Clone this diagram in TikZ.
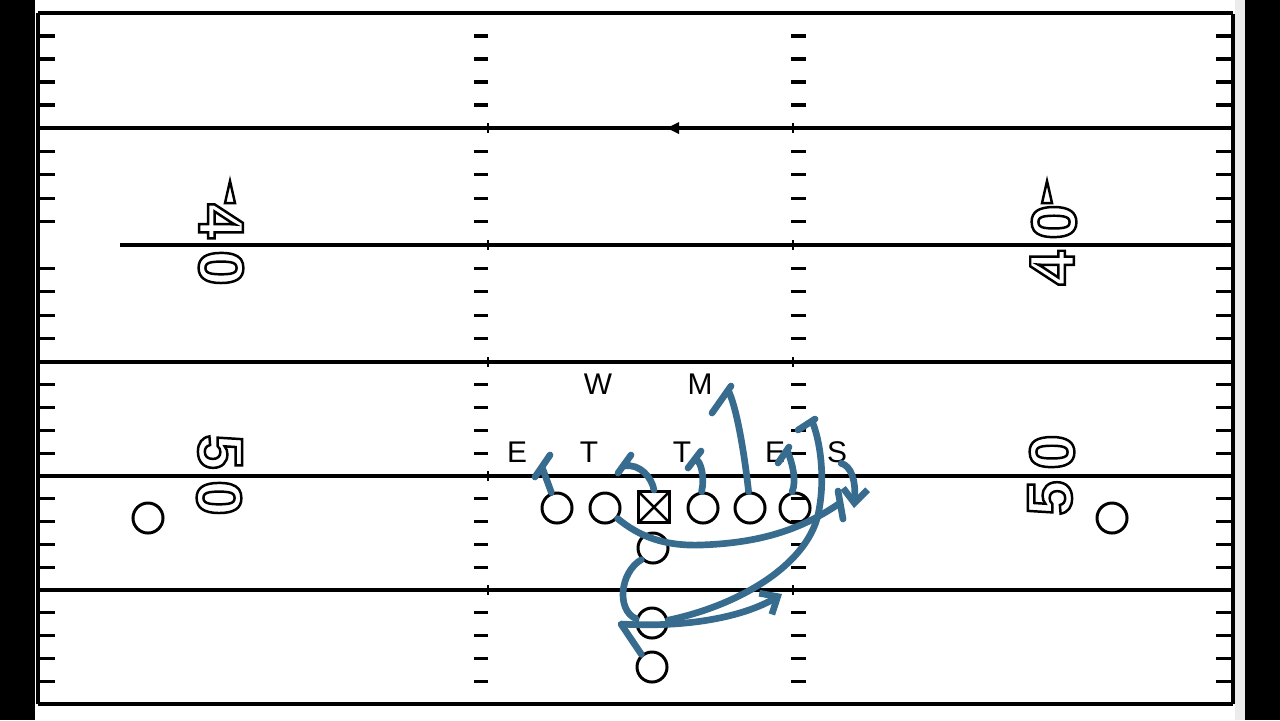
\documentclass[tikz,border=0pt]{standalone}
\usepackage{fontspec}
\setsansfont{Liberation Sans}
\usetikzlibrary{arrows.meta}
\definecolor{routeblue}{RGB}{56,108,142}
\newcommand{\numout}[1]{\special{pdf:literal direct 1 Tr 0.7 w}#1\special{pdf:literal direct 0 Tr}}
\tikzset{
  yardline/.style={line width=0.9pt},
  tick/.style={line width=0.9pt},
  plyr/.style={circle,draw,line width=0.85pt,minimum size=0.30cm,inner sep=0pt},
  ctr/.style={rectangle,draw,line width=0.85pt,minimum size=0.31cm,inner sep=0pt,
    path picture={\draw[line width=0.7pt] (path picture bounding box.north west) -- (path picture bounding box.south east)
      (path picture bounding box.north east) -- (path picture bounding box.south west);}},
  deflbl/.style={font=\sffamily\fontsize{8.5}{10}\selectfont,inner sep=0pt},
  yardnum/.style={font=\sffamily\bfseries\fontsize{18}{20}\selectfont,inner sep=0pt},
  route/.style={draw=routeblue,line width=1.9pt,line cap=round,line join=round},
}
\begin{document}
\begin{tikzpicture}[x=0.01cm,y=-0.01cm,>={Straight Barb[length=4pt,width=7pt]}]
\useasboundingbox (0,0) rectangle (1280,720);
% screen edges
\fill (0,0) rectangle (35,720);
\fill[gray!15] (1235,0) rectangle (1245,720);
\fill (1245,0) rectangle (1280,720);
% sidelines and yard lines
\draw[yardline] (38,13) -- (38,704);
\draw[yardline] (1233,14) -- (1233,704);
\foreach \y in {13,128,362,476,590,704}
  \draw[yardline] (38,\y) -- (1233,\y);
\draw[yardline] (120,245) -- (1233,245);
% yard ticks and hash marks
\foreach \ya/\yb in {13/128,128/245,245/362,362/476,476/590,590/704}
  \foreach \k in {1,...,4} {
    \pgfmathsetmacro\yy{\ya+(\yb-\ya)*\k/5}
    \draw[tick] (38,\yy) -- (55,\yy) (1216,\yy) -- (1233,\yy);
    \draw[tick] (474,\yy) -- (488,\yy) (791,\yy) -- (806,\yy);
  }
\foreach \y in {128,245,362,476,590}
  \draw[line width=0.6pt] (488,\y-5) -- (488,\y+5) (793,\y-5) -- (793,\y+5);
\fill (667,128) -- (679,122) -- (679,134) -- cycle;
% yard numbers
\node[yardnum,rotate=-90] (l40a) at (221,221) {\numout{4}};
\node[yardnum,rotate=-90] (l40b) at (221,268) {\numout{0}};
\draw[line width=0.7pt,fill=white] (225,203) -- (230,181) -- (235,203) -- cycle;
\node[yardnum,rotate=-90] (l50a) at (220,452) {\numout{5}};
\node[yardnum,rotate=-90] (l50b) at (219,498) {\numout{0}};
\node[yardnum,rotate=90] (r40a) at (1054,222) {\numout{0}};
\node[yardnum,rotate=90] (r40b) at (1052,268) {\numout{4}};
\draw[line width=0.7pt,fill=white] (1042,203) -- (1047,181) -- (1052,203) -- cycle;
\node[yardnum,rotate=90] (r50a) at (1052,452) {\numout{0}};
\node[yardnum,rotate=90] (r50b) at (1050,498) {\numout{5}};
% offense
\node[plyr] (lt) at (557,508) {};
\node[plyr] (lg) at (605,508) {};
\node[ctr]  (c)  at (654,507) {};
\node[plyr] (rg) at (703,508) {};
\node[plyr] (rt) at (750,508) {};
\node[plyr] (te) at (795,508) {};
\node[plyr] (qb) at (653,548) {};
\node[plyr] (fb) at (652,623) {};
\node[plyr] (tb) at (652,667) {};
\node[plyr] (wl) at (148,518) {};
\node[plyr] (wr) at (1112,518) {};
% defense
\node[deflbl] (de1) at (517,452) {E};
\node[deflbl] (dt1) at (589,452) {T};
\node[deflbl] (dt2) at (682,452) {T};
\node[deflbl] (de2) at (775,452) {E};
\node[deflbl] (ds)  at (837,452) {S};
\node[deflbl] (dw)  at (598,384) {W};
\node[deflbl] (dm)  at (700,384) {M};
% blocks
\coordinate (k1) at (542,467);
\coordinate (k2) at (624,466);
\coordinate (k3) at (695,459);
\coordinate (k4) at (728,390);
\coordinate (k5) at (787,450);
\coordinate (k6) at (812,421);
\coordinate (k7) at (840,503);
\draw[route] (lt.110) -- (k1) ++(-7,10) -- ++(15,-22);
\draw[route] (c.north) .. controls (652,478) and (640,463) .. (k2) ++(-6,7) -- ++(13,-18);
\draw[route] (rg.95) .. controls (705,478) and (701,460) .. (k3) ++(-7,9) -- ++(13,-17);
\draw[route] (rt.95) .. controls (744,450) and (736,405) .. (k4) ++(3,-4) -- ++(-19,27);
\draw[route] (te.100) .. controls (797,480) and (792,462) .. (k5) ++(2,-3) -- ++(-11,16);
\draw[route] (fb.10) .. controls (740,605) and (806,565) .. (818,515)
  .. controls (826,478) and (820,440) .. (k6) ++(3,-2) -- ++(-17,11);
\draw[route] (lg.-40) .. controls (640,537) and (665,546) .. (700,545)
  .. controls (765,543) and (805,527) .. (k7) ++(-2,-12) -- ++(5,28);
% backfield
\coordinate (k8) at (854,508);
\coordinate (k9) at (621,624);
\coordinate (k10) at (782,594);
\draw[route] (qb.225) .. controls (620,572) and (616,610) .. (fb.165);
\draw[route,->] (tb.130) -- (k9) .. controls (690,628) and (745,616) .. (k10);
\draw[route,->] (ds.-70) .. controls (851,466) and (856,480) .. (k8);
\end{tikzpicture}
\end{document}
